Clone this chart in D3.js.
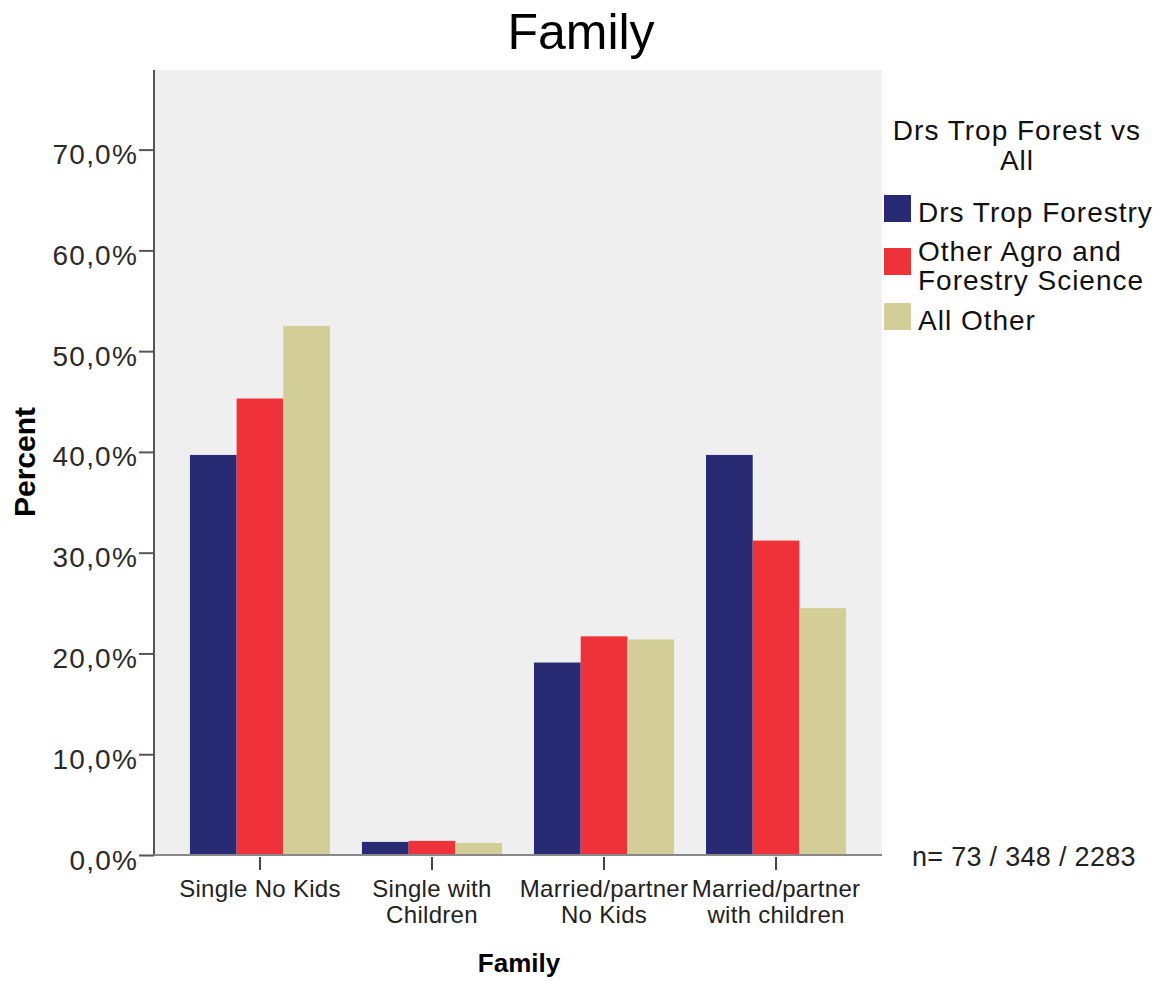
<!DOCTYPE html>
<html>
<head>
<meta charset="utf-8">
<script src="https://cdn.jsdelivr.net/npm/d3@7"></script>
<style>
  html, body { margin: 0; padding: 0; background: #fff; }
  svg { display: block; font-family: "Liberation Sans", Arial, sans-serif; }
</style>
</head>
<body>
<svg id="chart" width="1161" height="981"></svg>
<script>
// ---- data ----
const categories = [["Single No Kids"], ["Single with", "Children"], ["Married/partner", "No Kids"], ["Married/partner", "with children"]];
const seriesNames = ["Drs Trop Forestry", "Other Agro and Forestry Science", "All Other"];
const seriesLegendLines = [["Drs Trop Forestry"], ["Other Agro and", "Forestry Science"], ["All Other"]];
const seriesColors = ["#282a73", "#ef323a", "#d3ce97"];
const drsTropForestry = [39.7, 1.3, 19.1, 39.7];
const otherAgroForestry = [45.3, 1.4, 21.7, 31.2];
const allOther = [52.5, 1.2, 21.4, 24.5];
const yTicks = [0, 10, 20, 30, 40, 50, 60, 70];
const yMax = 77.9;
const titleText = "Family";
const xTitle = "Family";
const yTitle = "Percent";
const legendTitle = ["Drs Trop Forest vs", "All"];
const nText = "n= 73 / 348 / 2283";

const seriesValues = [drsTropForestry, otherAgroForestry, allOther];
const catKeys = categories.map(c => c.join(" "));

const svg = d3.select("#chart");
const pLeft = 154, pRight = 882, pTop = 70, pBottom = 855;

const x = d3.scaleBand().domain(catKeys).range([pLeft, pRight]).paddingInner(0.186).paddingOuter(0.209);
const xs = d3.scaleBand().domain(d3.range(seriesNames.length)).range([0, x.bandwidth()]);
const y = d3.scaleLinear().domain([0, yMax]).range([pBottom, pTop]);

// plot background
svg.append("rect").attr("x", pLeft).attr("y", pTop).attr("width", pRight - pLeft).attr("height", pBottom - pTop).attr("fill", "#efefef");

// bars
const groups = svg.append("g").selectAll("g").data(catKeys).join("g")
  .attr("transform", d => `translate(${x(d)},0)`);
groups.selectAll("rect").data((d, i) => seriesValues.map((s, j) => ({ j, v: s[i] }))).join("rect")
  .attr("x", d => xs(d.j))
  .attr("width", xs.bandwidth())
  .attr("y", d => y(d.v))
  .attr("height", d => y(0) - y(d.v))
  .attr("fill", d => seriesColors[d.j]);

// y axis
const yAxis = d3.axisLeft(y).tickValues(yTicks).tickSize(15).tickPadding(1)
  .tickFormat(d => d3.format(".1f")(d).replace(".", ",") + "%");
const gy = svg.append("g").attr("transform", `translate(${pLeft},0)`).call(yAxis);
gy.select(".domain").attr("stroke", "#555").attr("stroke-width", 2).attr("d", `M0,${pTop}V${pBottom + 1}`);
gy.selectAll(".tick line").attr("stroke", "#555").attr("stroke-width", 2);
gy.selectAll(".tick text").attr("font-size", 28).attr("fill", "#2a2a2a").attr("dy", "0.5em")
  .attr("letter-spacing", 1.2)
  .attr("font-family", "Liberation Sans, Arial, sans-serif");

// x axis
const xAxis = d3.axisBottom(x).tickSize(15).tickFormat("");
const gx = svg.append("g").attr("transform", `translate(0,${pBottom})`).call(xAxis);
gx.select(".domain").attr("stroke", "#888").attr("stroke-width", 2).attr("d", `M${pLeft},0H${pRight}`);
gx.selectAll(".tick line").attr("stroke", "#444").attr("stroke-width", 2).attr("y1", 2);
gx.selectAll(".tick").each(function(d, i) {
  const t = d3.select(this).append("text").attr("fill", "#222").attr("font-size", 24)
    .attr("letter-spacing", 0.3)
    .attr("text-anchor", "middle").attr("font-family", "Liberation Sans, Arial, sans-serif");
  categories[i].forEach((line, k) => {
    t.append("tspan").attr("x", 0).attr("y", 42 + k * 26).text(line);
  });
});

// title
svg.append("text").attr("x", 581).attr("y", 49).attr("text-anchor", "middle")
  .attr("font-size", 50).attr("fill", "#000").text(titleText);

// axis titles
svg.append("text").attr("x", 519).attr("y", 972).attr("text-anchor", "middle")
  .attr("font-size", 26).attr("font-weight", "bold").attr("fill", "#000").text(xTitle);
svg.append("text").attr("transform", "translate(35,462) rotate(-90)").attr("text-anchor", "middle")
  .attr("font-size", 30).attr("font-weight", "bold").attr("fill", "#000").text(yTitle);

// legend
const lg = svg.append("g");
legendTitle.forEach((l, k) => {
  lg.append("text").attr("x", 1017).attr("y", 140 + k * 30).attr("text-anchor", "middle")
    .attr("font-size", 28).attr("letter-spacing", 1).attr("fill", "#111").text(l);
});
const itemTops = [195, 248, 303];
seriesNames.forEach((s, j) => {
  lg.append("rect").attr("x", 884).attr("y", itemTops[j]).attr("width", 27).attr("height", 27).attr("fill", seriesColors[j]);
  const t = lg.append("text").attr("font-size", 28).attr("letter-spacing", 1).attr("fill", "#111");
  seriesLegendLines[j].forEach((line, k) => {
    t.append("tspan").attr("x", 918).attr("y", itemTops[j] + (seriesLegendLines[j].length > 1 ? 13 : 27) + k * 29).text(line);
  });
});

// n text
svg.append("text").attr("x", 912).attr("y", 866).attr("font-size", 27).attr("letter-spacing", 0.3)
  .attr("fill", "#222").text(nText);
</script>
</body>
</html>
